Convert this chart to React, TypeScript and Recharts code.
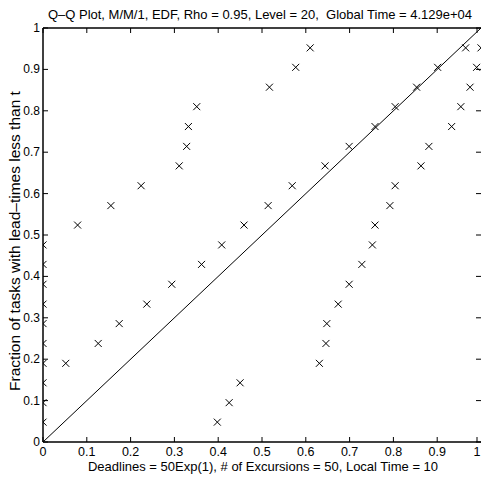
import { ScatterChart, Scatter, XAxis, YAxis, ReferenceLine } from 'recharts';

// quantile levels k/21, k = 1..20
const levels = [
  0.048, 0.095, 0.143, 0.19, 0.238, 0.286, 0.333, 0.381, 0.429, 0.476,
  0.524, 0.571, 0.619, 0.667, 0.714, 0.762, 0.81, 0.857, 0.905, 0.952,
];

const seriesLow = [
  0, 0, 0, 0, 0, 0, 0, 0, 0, 0,
  0.079, 0.155, 0.224, 0.311, 0.328, 0.332, 0.351, 0.517, 0.577, 0.61,
];
const seriesMid = [
  null, null, null, 0.052, 0.126, 0.174, 0.237, 0.294, 0.362, 0.408,
  0.459, 0.514, 0.569, 0.644, 0.699, 0.758, 0.804, 0.853, 0.901, 0.965,
];
const seriesHigh = [
  0.398, 0.425, 0.45, 0.631, 0.646, 0.648, 0.674, 0.699, 0.728, 0.752,
  0.758, 0.792, 0.804, 0.863, 0.881, 0.933, 0.954, 0.975, 0.99, 1.0,
];

const ticks = [0, 0.1, 0.2, 0.3, 0.4, 0.5, 0.6, 0.7, 0.8, 0.9, 1];

const TITLE = 'Q–Q Plot, M/M/1, EDF, Rho = 0.95, Level = 20,  Global Time = 4.129e+04';
const X_LABEL = 'Deadlines = 50Exp(1), # of Excursions = 50, Local Time = 10';
const Y_LABEL = 'Fraction of tasks with lead–times less than t';

const W = 481;
const H = 483;
const PLOT_LEFT = 43;
const PLOT_TOP = 28;
const PLOT_BOTTOM = 442;
const PLOT_RIGHT = 481;
const FONT = '"Liberation Sans", Arial, sans-serif';

const toPoints = (xs: (number | null)[]) =>
  xs
    .map((x, i) => (x === null ? null : { x, y: levels[i] }))
    .filter((p): p is { x: number; y: number } => p !== null);

const XMark = (props: any) => {
  const { cx, cy } = props;
  const s = 3.5;
  return (
    <g stroke="#000" strokeWidth={1}>
      <line x1={cx - s} y1={cy - s} x2={cx + s} y2={cy + s} />
      <line x1={cx - s} y1={cy + s} x2={cx + s} y2={cy - s} />
    </g>
  );
};

const BottomTick = (props: any) => {
  const { x, payload } = props;
  return (
    <g>
      <line x1={x} x2={x} y1={PLOT_BOTTOM} y2={PLOT_BOTTOM - 5} stroke="#000" />
      <line x1={x} x2={x} y1={PLOT_TOP} y2={PLOT_TOP + 5} stroke="#000" />
      <text x={x} y={PLOT_BOTTOM + 14} textAnchor="middle" fontSize={12.5} fill="#000" fontFamily={FONT}>
        {String(payload.value)}
      </text>
    </g>
  );
};

const LeftTick = (props: any) => {
  const { y, payload } = props;
  return (
    <g>
      <line x1={PLOT_LEFT} x2={PLOT_LEFT + 5} y1={y} y2={y} stroke="#000" />
      <line x1={PLOT_RIGHT} x2={PLOT_RIGHT - 5} y1={y} y2={y} stroke="#000" />
      <text x={PLOT_LEFT - 3} y={y + 4} textAnchor="end" fontSize={12} fill="#000" fontFamily={FONT}>
        {String(payload.value)}
      </text>
    </g>
  );
};

const App = () => {
  return (
    <div style={{ position: 'absolute', left: 0, top: 0, width: W, height: H, background: '#fff' }}>
      <ScatterChart
        width={W}
        height={H}
        margin={{ top: PLOT_TOP, right: W - PLOT_RIGHT, bottom: 0, left: 0 }}
      >
        <XAxis
          type="number"
          dataKey="x"
          domain={[0, 1]}
          ticks={ticks}
          height={H - PLOT_BOTTOM}
          tick={<BottomTick />}
          tickLine={false}
          axisLine={{ stroke: '#000', strokeWidth: 1.5 }}
          allowDataOverflow
        />
        <YAxis
          type="number"
          dataKey="y"
          domain={[0, 1]}
          ticks={ticks}
          width={PLOT_LEFT}
          tick={<LeftTick />}
          tickLine={false}
          axisLine={{ stroke: '#000', strokeWidth: 1.5 }}
          allowDataOverflow
        />
        <ReferenceLine y={1} stroke="#000" strokeWidth={1.5} />
        <ReferenceLine
          segment={[
            { x: 0, y: 0 },
            { x: 1, y: 1 },
          ]}
          stroke="#000"
          strokeWidth={1}
        />
        <Scatter data={toPoints(seriesLow)} shape={<XMark />} isAnimationActive={false} />
        <Scatter data={toPoints(seriesMid)} shape={<XMark />} isAnimationActive={false} />
        <Scatter data={toPoints(seriesHigh)} shape={<XMark />} isAnimationActive={false} />
      </ScatterChart>
      <svg
        width={W}
        height={H}
        style={{ position: 'absolute', left: 0, top: 0, pointerEvents: 'none' }}
      >
        <text
          x={260}
          y={18.5}
          textAnchor="middle"
          fontSize={13}
          fontFamily={FONT}
          fill="#000"
          style={{ whiteSpace: 'pre' }}
        >
          {TITLE}
        </text>
        <text x={263} y={471} textAnchor="middle" fontSize={13} fontFamily={FONT} fill="#000">
          {X_LABEL}
        </text>
        <text
          x={0}
          y={0}
          transform="translate(20, 241) rotate(-90)"
          textAnchor="middle"
          fontSize={15.5}
          fontFamily={FONT}
          fill="#000"
        >
          {Y_LABEL}
        </text>
      </svg>
    </div>
  );
};

export default App;
